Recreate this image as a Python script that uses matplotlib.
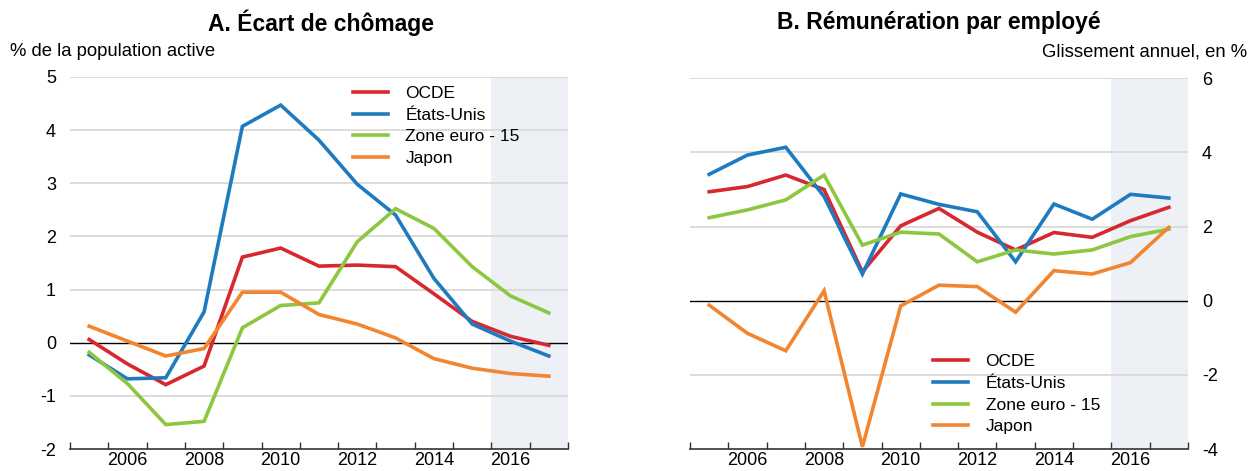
import numpy as np
import matplotlib.pyplot as plt

plt.rcParams['font.family'] = ['Liberation Sans', 'DejaVu Sans']
plt.rcParams['axes.unicode_minus'] = False

years = np.arange(2005, 2018)
series_names = ['OCDE', 'États-Unis', 'Zone euro - 15', 'Japon']
colors = ['#d7282f', '#1f7bbf', '#8dc63f', '#f28530']

# Panel A: unemployment gap, % of labour force
gap_ocde = [0.06, -0.40, -0.79, -0.44, 1.61, 1.78, 1.44, 1.46, 1.43, 0.92, 0.40, 0.12, -0.05]
gap_us = [-0.23, -0.68, -0.66, 0.58, 4.07, 4.47, 3.81, 2.98, 2.40, 1.21, 0.35, 0.03, -0.25]
gap_euro = [-0.18, -0.77, -1.54, -1.48, 0.28, 0.70, 0.75, 1.90, 2.52, 2.15, 1.43, 0.88, 0.56]
gap_japan = [0.31, 0.03, -0.25, -0.11, 0.95, 0.95, 0.53, 0.35, 0.09, -0.30, -0.48, -0.58, -0.63]

# Panel B: compensation per employee, y-o-y %
comp_ocde = [2.94, 3.08, 3.39, 3.00, 0.78, 2.02, 2.49, 1.85, 1.37, 1.84, 1.71, 2.16, 2.52]
comp_us = [3.41, 3.93, 4.14, 2.81, 0.72, 2.88, 2.60, 2.40, 1.05, 2.61, 2.20, 2.87, 2.77]
comp_euro = [2.24, 2.45, 2.72, 3.39, 1.50, 1.85, 1.80, 1.05, 1.37, 1.26, 1.37, 1.73, 1.93]
comp_japan = [-0.12, -0.88, -1.35, 0.27, -3.94, -0.14, 0.42, 0.38, -0.31, 0.81, 0.72, 1.03, 1.98]

fig = plt.figure(figsize=(12.48, 4.71), dpi=100)
axA = fig.add_axes([0.0561, 0.0467, 0.399, 0.790])
axB = fig.add_axes([0.5529, 0.0467, 0.399, 0.787])


def style_axis(ax, ylim, yticks, right=False):
    ax.set_xlim(2005, 2018)
    ax.set_ylim(*ylim)
    ax.axvspan(2016, 2018, color='#edf0f5', zorder=0, lw=0)
    for yv in yticks:
        if yv == 0:
            ax.axhline(0, color='black', lw=1.0, zorder=1)
        elif yv != ylim[0]:
            ax.axhline(yv, color='#d9d9d9', lw=1.3, zorder=0.5)
    ax.set_yticks(yticks)
    ax.set_xticks(np.arange(2005, 2019), minor=False)
    ax.set_xticklabels([])
    ax.set_xticks(np.arange(2006.5, 2017, 2), minor=True)
    ax.set_xticklabels([str(y) for y in range(2006, 2017, 2)], minor=True)
    ax.tick_params(axis='x', which='major', direction='in', length=5, width=1, color='#333333')
    ax.tick_params(axis='x', which='minor', length=0, pad=2, labelsize=13)
    ax.tick_params(axis='y', length=0, labelsize=13, pad=10)
    for s in ['top', 'left', 'right']:
        ax.spines[s].set_visible(False)
    ax.spines['bottom'].set_linewidth(1.2)
    ax.spines['bottom'].set_color('#333333')
    if right:
        ax.yaxis.tick_right()
        ax.tick_params(axis='y', length=0, pad=10)


style_axis(axA, (-2, 5), list(range(-2, 6)))
style_axis(axB, (-4, 6), list(range(-4, 7, 2)), right=True)

x = years + 0.5
for ax, data in [(axA, [gap_ocde, gap_us, gap_euro, gap_japan]),
                 (axB, [comp_ocde, comp_us, comp_euro, comp_japan])]:
    for name, vals, c in zip(series_names, data, colors):
        ax.plot(x, vals, color=c, lw=2.6, label=name, zorder=3, solid_joinstyle='miter')

axA.legend(loc='upper left', bbox_to_anchor=(0.555, 0.995), frameon=False, fontsize=12.5,
           handlelength=2.0, handletextpad=1.0, labelspacing=0.38, borderaxespad=0)
axB.legend(loc='upper left', bbox_to_anchor=(0.475, 0.275), frameon=False, fontsize=12.5,
           handlelength=2.0, handletextpad=1.0, labelspacing=0.38, borderaxespad=0)

fig.text(0.257, 0.952, 'A. Écart de chômage', ha='center', va='center',
         fontsize=16.5, fontweight='bold')
fig.text(0.752, 0.952, 'B. Rémunération par employé', ha='center', va='center',
         fontsize=16.5, fontweight='bold')
fig.text(0.008, 0.89, '% de la population active', ha='left', va='center', fontsize=13.3)
fig.text(0.999, 0.89, 'Glissement annuel, en %', ha='right', va='center', fontsize=13.3)

fig.savefig('out.png', dpi=100)
